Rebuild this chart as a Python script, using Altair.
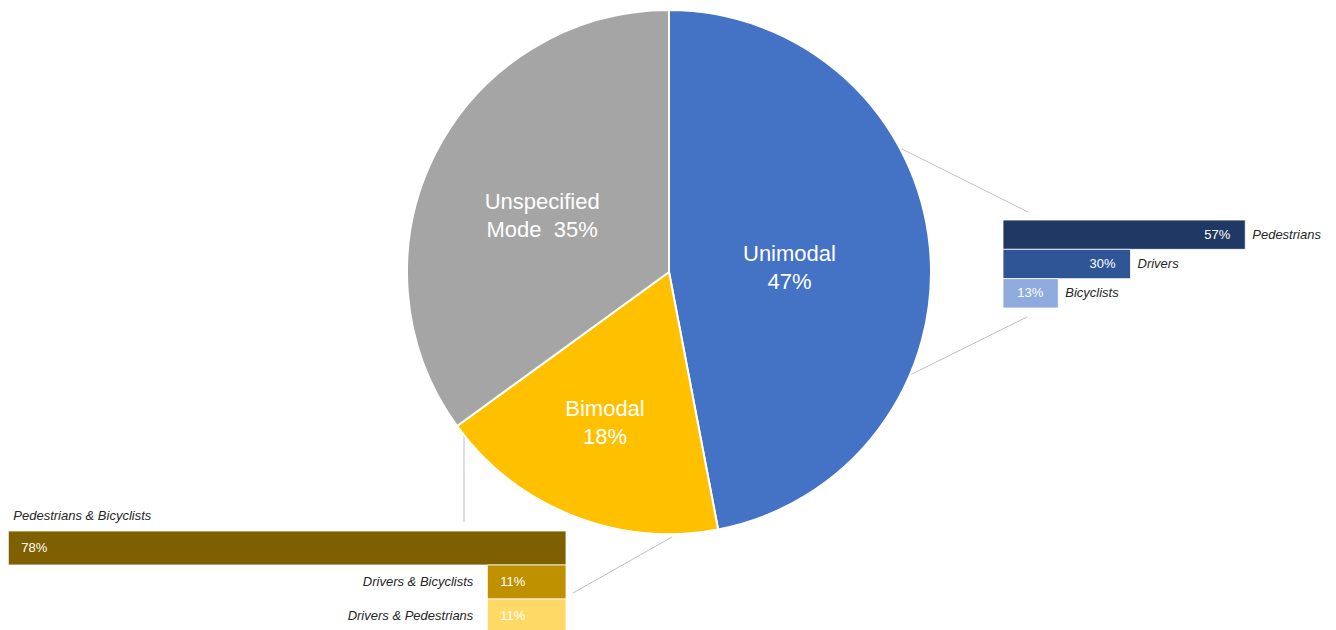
import altair as alt
import pandas as pd

FONT = "Liberation Sans"

# Pie data
pie_cats = ["Unimodal", "Bimodal", "Unspecified Mode"]
pie_vals = [47, 18, 35]
pie_labels = ["Unimodal\n47%", "Bimodal\n18%", "Unspecified\nMode\u00a0 35%"]
pie_colors = ["#4472C4", "#FFC000", "#A5A5A5"]

# Unimodal breakdown
uni_cats = ["Pedestrians", "Drivers", "Bicyclists"]
uni_vals = [57, 30, 13]
uni_colors = ["#203864", "#2F5597", "#8FAADC"]

# Bimodal breakdown
bi_cats = ["Pedestrians & Bicyclists", "Drivers & Bicyclists", "Drivers & Pedestrians"]
bi_vals = [78, 11, 11]
bi_colors = ["#7F6000", "#BF9000", "#FFD966"]

pie_df = pd.DataFrame({"cat": pie_cats, "value": pie_vals, "label": pie_labels,
                       "ord": list(range(len(pie_cats)))})
uni_df = pd.DataFrame({"cat": uni_cats, "value": uni_vals})
bi_df = pd.DataFrame({"cat": bi_cats, "value": bi_vals})

CX, CY, R = 661, 264, 262

pie_base = alt.Chart(pie_df).encode(
    theta=alt.Theta("value:Q", stack=True),
    order=alt.Order("ord:Q"),
    x=alt.value(CX), y=alt.value(CY),
)
arc = pie_base.mark_arc(radius=R, stroke="white", strokeWidth=2).encode(
    color=alt.Color("cat:N", scale=alt.Scale(domain=pie_cats, range=pie_colors), legend=None)
)

label_specs = [("Unimodal", 121, 0, -7), ("Bimodal", 163, -4, -15), ("Unspecified Mode", 139, -3, -7)]
pie_texts = []
for c, r, dx, dy in label_specs:
    pie_texts.append(
        pie_base.transform_calculate(lab=f"datum.cat === '{c}' ? datum.label : ''")
        .mark_text(radius=r, dx=dx, dy=dy, fontSize=22, color="white", font=FONT,
                   lineBreak="\n", lineHeight=28, align="center", baseline="middle")
        .encode(text="lab:N")
    )

# Right bars (Unimodal)
ux = alt.X("value:Q", scale=alt.Scale(domain=[0, 100], range=[995, 1420]), axis=None)
uy = alt.Y("cat:N", sort=uni_cats,
           scale=alt.Scale(domain=uni_cats, range=[212, 300], paddingInner=0, paddingOuter=0),
           axis=None)
ubase = alt.Chart(uni_df).encode(x=ux, y=uy).transform_calculate(pct="datum.value + '%'")
ubars = ubase.mark_bar(stroke="white", strokeWidth=0.8).encode(
    color=alt.Color("cat:N", scale=alt.Scale(domain=uni_cats, range=uni_colors), legend=None)
)
uval = ubase.mark_text(align="right", dx=-15, color="white", fontSize=13, font=FONT).encode(
    text="pct:N")
ucat = ubase.mark_text(align="left", dx=7, color="#262626", fontSize=13, font=FONT,
                       fontStyle="italic").encode(text="cat:N")
right = alt.layer(ubars, uval, ucat)

# Bottom-left bars (Bimodal)
bx = alt.X("value:Q", scale=alt.Scale(domain=[0, 100], range=[558, -157]), axis=None)
by = alt.Y("cat:N", sort=bi_cats,
           scale=alt.Scale(domain=bi_cats, range=[523, 625], paddingInner=0, paddingOuter=0),
           axis=None)
bbase = alt.Chart(bi_df).encode(x=bx, y=by).transform_calculate(pct="datum.value + '%'")
bbars = bbase.mark_bar(stroke="white", strokeWidth=0.8).encode(
    color=alt.Color("cat:N", scale=alt.Scale(domain=bi_cats, range=bi_colors), legend=None)
)
bval = bbase.mark_text(align="left", dx=13, color="white", fontSize=13, font=FONT).encode(
    text="pct:N")
bcat_top = bbase.transform_filter(alt.datum.cat == bi_cats[0]).mark_text(
    align="left", dx=5, dy=-32, color="#262626", fontSize=13, font=FONT, fontStyle="italic"
).encode(text="cat:N")
bcat_side = bbase.transform_filter(alt.datum.cat != bi_cats[0]).mark_text(
    align="right", dx=-14, color="#262626", fontSize=13, font=FONT, fontStyle="italic"
).encode(text="cat:N")
bottom = alt.layer(bbars, bval, bcat_top, bcat_side)

# Connector lines
one = pd.DataFrame({"k": [0]})
conn_style = dict(color="#BFBFBF", strokeWidth=1)
rules = [
    alt.Chart(one).mark_rule(**conn_style).encode(
        x=alt.value(894), y=alt.value(141), x2=alt.value(1020), y2=alt.value(204)),
    alt.Chart(one).mark_rule(**conn_style).encode(
        x=alt.value(1019), y=alt.value(309), x2=alt.value(902), y2=alt.value(367)),
    alt.Chart(one).mark_rule(**conn_style).encode(
        x=alt.value(456), y=alt.value(423), x2=alt.value(456), y2=alt.value(514)),
    alt.Chart(one).mark_rule(**conn_style).encode(
        x=alt.value(664), y=alt.value(529), x2=alt.value(565), y2=alt.value(585)),
]

chart = (
    alt.layer(*rules, arc, *pie_texts, right, bottom)
    .resolve_scale(x="independent", y="independent", color="independent")
    .properties(width=1320, height=622, padding=0, autosize="none")
    .configure_view(stroke=None)
)

chart.save("out.html", embed_options={"renderer": "svg", "actions": False})
